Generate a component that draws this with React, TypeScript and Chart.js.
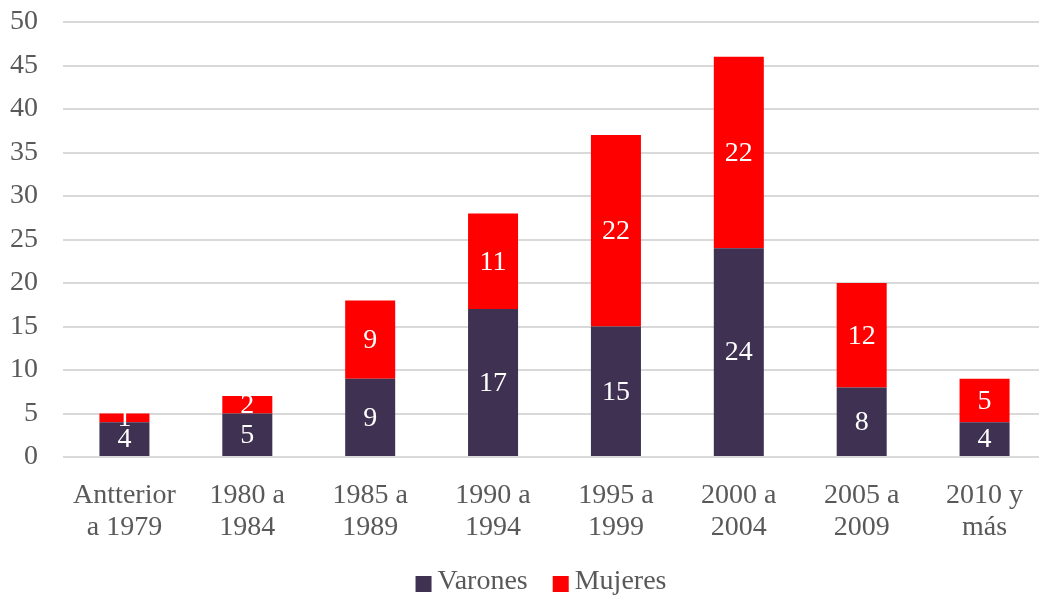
import React, { useEffect, useRef } from "react";
import { Chart, registerables } from "chart.js";

Chart.register(...registerables);

const categories: string[][] = [
  ["Antterior", "a 1979"],
  ["1980 a", "1984"],
  ["1985 a", "1989"],
  ["1990 a", "1994"],
  ["1995 a", "1999"],
  ["2000 a", "2004"],
  ["2005 a", "2009"],
  ["2010 y", "más"],
];
const varones: number[] = [4, 5, 9, 17, 15, 24, 8, 4];
const mujeres: number[] = [1, 2, 9, 11, 22, 22, 12, 5];
const seriesNames: string[] = ["Varones", "Mujeres"];
const yTicks = { min: 0, max: 50, step: 5 };

const FONT = "'Liberation Serif', 'DejaVu Serif', serif";
const FS = 28;
const TEXT = "#595959";

const dataLabels = {
  id: "dataLabels",
  afterDatasetsDraw(chart: any) {
    const ctx = chart.ctx;
    ctx.save();
    ctx.fillStyle = "#ffffff";
    ctx.font = `${FS}px ${FONT}`;
    ctx.textAlign = "center";
    ctx.textBaseline = "middle";
    chart.data.datasets.forEach((ds: any, i: number) => {
      const meta = chart.getDatasetMeta(i);
      meta.data.forEach((el: any, j: number) => {
        const v = ds.data[j];
        const y = (el.y + el.base) / 2;
        ctx.fillText(String(v), el.x, y + 1);
      });
    });
    ctx.restore();
  },
};

// Bottom legend drawn from the datasets (square swatch + label)
const bottomLegend = {
  id: "bottomLegend",
  afterDraw(chart: any) {
    const ctx = chart.ctx;
    ctx.save();
    ctx.font = `${FS}px ${FONT}`;
    ctx.textBaseline = "middle";
    ctx.textAlign = "left";
    const box = 16;
    const gapBoxText = 6;
    const gapItems = 25;
    const items = chart.data.datasets.map((ds: any) => ({
      text: ds.label,
      color: ds.backgroundColor,
      w: ctx.measureText(ds.label).width,
    }));
    const total = items.reduce(
      (acc: number, it: any, i: number) =>
        acc + box + gapBoxText + it.w + (i > 0 ? gapItems : 0),
      0
    );
    const cx = 541;
    const cy = 582;
    let x = cx - total / 2;
    items.forEach((it: any) => {
      ctx.fillStyle = it.color;
      ctx.fillRect(x, cy - box / 2 + 2, box, box);
      x += box + gapBoxText;
      ctx.fillStyle = TEXT;
      ctx.fillText(it.text, x, cy);
      x += it.w + gapItems;
    });
    ctx.restore();
  },
};

export default function App() {
  const ref = useRef<HTMLCanvasElement>(null);
  useEffect(() => {
    if (!ref.current) return;
    const chart = new Chart(ref.current, {
      type: "bar",
      data: {
        labels: categories,
        datasets: [
          {
            label: seriesNames[0],
            data: varones,
            backgroundColor: "#3e3151",
            barPercentage: 0.407,
            categoryPercentage: 1,
          },
          {
            label: seriesNames[1],
            data: mujeres,
            backgroundColor: "#ff0000",
            barPercentage: 0.407,
            categoryPercentage: 1,
          },
        ],
      },
      options: {
        responsive: false,
        animation: false,
        layout: { padding: { top: 0, left: 0, right: 1, bottom: 42 } },
        plugins: {
          legend: { display: false },
          tooltip: { enabled: false },
        },
        scales: {
          x: {
            stacked: true,
            grid: { display: false, drawTicks: false },
            border: { display: false },
            ticks: {
              color: TEXT,
              padding: 23,
              maxRotation: 0,
              autoSkip: false,
              font: { family: FONT, size: FS, lineHeight: 1.14 },
            },
            afterFit: (s: any) => {
              s.height = 100;
            },
          },
          y: {
            stacked: true,
            min: yTicks.min,
            max: yTicks.max,
            grid: { color: "#d9d9d9", lineWidth: 2, drawTicks: false },
            border: { display: false },
            ticks: {
              stepSize: yTicks.step,
              color: TEXT,
              padding: 25,
              font: { family: FONT, size: FS },
            },
            afterFit: (s: any) => {
              s.width = 63;
              s.paddingTop = 22;
              s.paddingBottom = 0;
            },
          },
        },
      },
      plugins: [dataLabels, bottomLegend],
    });
    return () => chart.destroy();
  }, []);
  return (
    <div
      style={{
        position: "fixed",
        left: 0,
        top: 0,
        width: 1039,
        height: 599,
        overflow: "hidden",
        background: "#fff",
      }}
    >
      <canvas ref={ref} width={1047} height={599} style={{ display: "block" }} />
    </div>
  );
}
